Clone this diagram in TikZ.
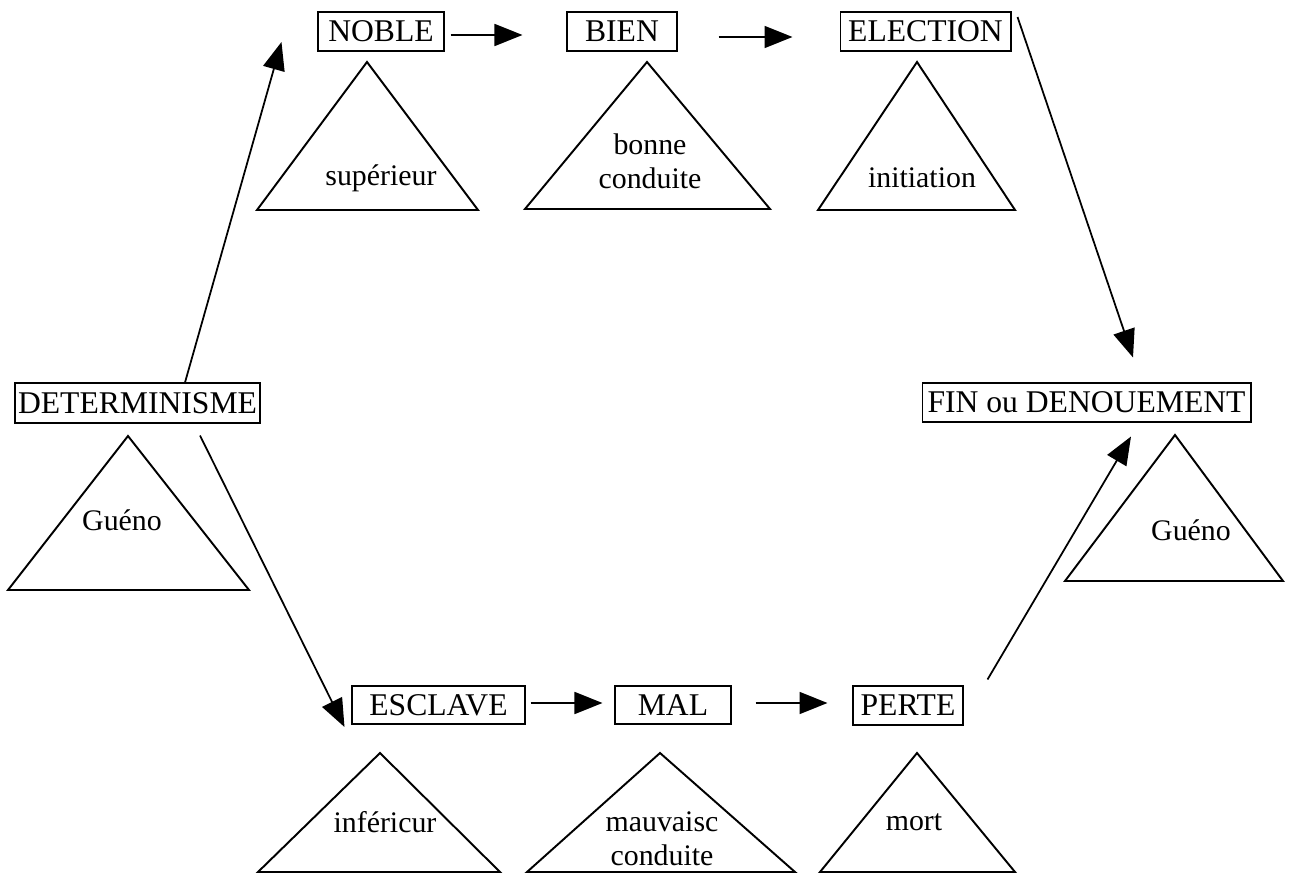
\documentclass[tikz,border=0pt]{standalone}
\usepackage{fontspec}
\setmainfont{Liberation Serif}
\usetikzlibrary{arrows.meta,calc}
\begin{document}
\begin{tikzpicture}[x=0.02cm,y=-0.02cm,
  box/.style={draw,line width=0.6pt,inner sep=0pt,font=\fontsize{18}{21}\selectfont},
  tri/.style={draw,line width=1.1pt,line join=miter},
  lbl/.style={inner sep=0pt,align=center,font=\fontsize{17}{19.5}\selectfont},
  arr/.style={line width=1pt,-{Triangle[length=0.56cm,width=0.44cm]}}]
\useasboundingbox (0,0) rectangle (1291,874);
% boxes
\node[box,minimum width=2.52cm,minimum height=0.78cm] (NOBLE) at (381,31.5) {NOBLE};
\node[box,minimum width=2.20cm,minimum height=0.78cm] (BIEN) at (622,31.5) {BIEN};
\node[box,minimum width=3.42cm,minimum height=0.78cm] (ELECTION) at (925.5,31.5) {ELECTION};
\node[box,minimum width=4.90cm,minimum height=0.80cm] (DET) at (137.5,403) {DETERMINISME};
\node[box,minimum width=6.58cm,minimum height=0.78cm] (FIN) at (1086.5,402.5) {FIN ou DENOUEMENT};
\node[box,minimum width=3.46cm,minimum height=0.76cm] (ESCLAVE) at (438.5,705) {ESCLAVE};
\node[box,minimum width=2.32cm,minimum height=0.76cm] (MAL) at (673,705) {MAL};
\node[box,minimum width=2.20cm,minimum height=0.78cm] (PERTE) at (908,705.5) {PERTE};
% triangles
\draw[tri] (367,62) -- (478,210) -- (257,210) -- cycle;
\draw[tri] (647,62) -- (770,209) -- (525,209) -- cycle;
\draw[tri] (917,62) -- (1015,210) -- (818,210) -- cycle;
\draw[tri] (128,436) -- (249,590) -- (8,590) -- cycle;
\draw[tri] (1175,435) -- (1283,581) -- (1065,581) -- cycle;
\draw[tri] (380,753) -- (500,872) -- (258,872) -- cycle;
\draw[tri] (660,753) -- (795,872) -- (527,872) -- cycle;
\draw[tri] (917,753) -- (1015,872) -- (820,872) -- cycle;
% triangle labels
\node[lbl] (t1) at (381,178) {supérieur};
\node[lbl] (t2) at (650,161) {bonne\\conduite};
\node[lbl] (t3) at (922,178) {initiation};
\node[lbl] (t4) at (122,520) {Guéno};
\node[lbl] (t5) at (1191,530) {Guéno};
\node[lbl] (t6) at (385,822) {inféricur};
\node[lbl] (t7) at (662,839) {mauvaisc\\conduite};
\node[lbl] (t8) at (914,822) {mort};
% arrows
\draw[arr] ($(DET.north)+(47.5,0)$) -- ($(NOBLE.west)+(-36,10.5)$);
\draw[arr] ($(NOBLE.east)+(6,3.5)$) -- ($(BIEN.west)+(-44,3.5)$);
\draw[arr] ($(BIEN.east)+(41,5.5)$) -- ($(ELECTION.west)+(-47,5.5)$);
\draw[arr] ($(ELECTION.east)+(6,-14.5)$) -- ($(FIN.north)+(46.5,-25)$);
\draw[arr] ($(DET.south)+(62.5,12)$) -- ($(ESCLAVE.west)+(-7,22)$);
\draw[arr] ($(ESCLAVE.east)+(5,-2)$) -- ($(MAL.west)+(-12,-2)$);
\draw[arr] ($(MAL.east)+(24,-2)$) -- ($(PERTE.west)+(-25,-2.5)$);
\draw[arr] ($(PERTE.north east)+(24,-6)$) -- ($(FIN.south)+(44.5,14)$);
\end{tikzpicture}
\end{document}
